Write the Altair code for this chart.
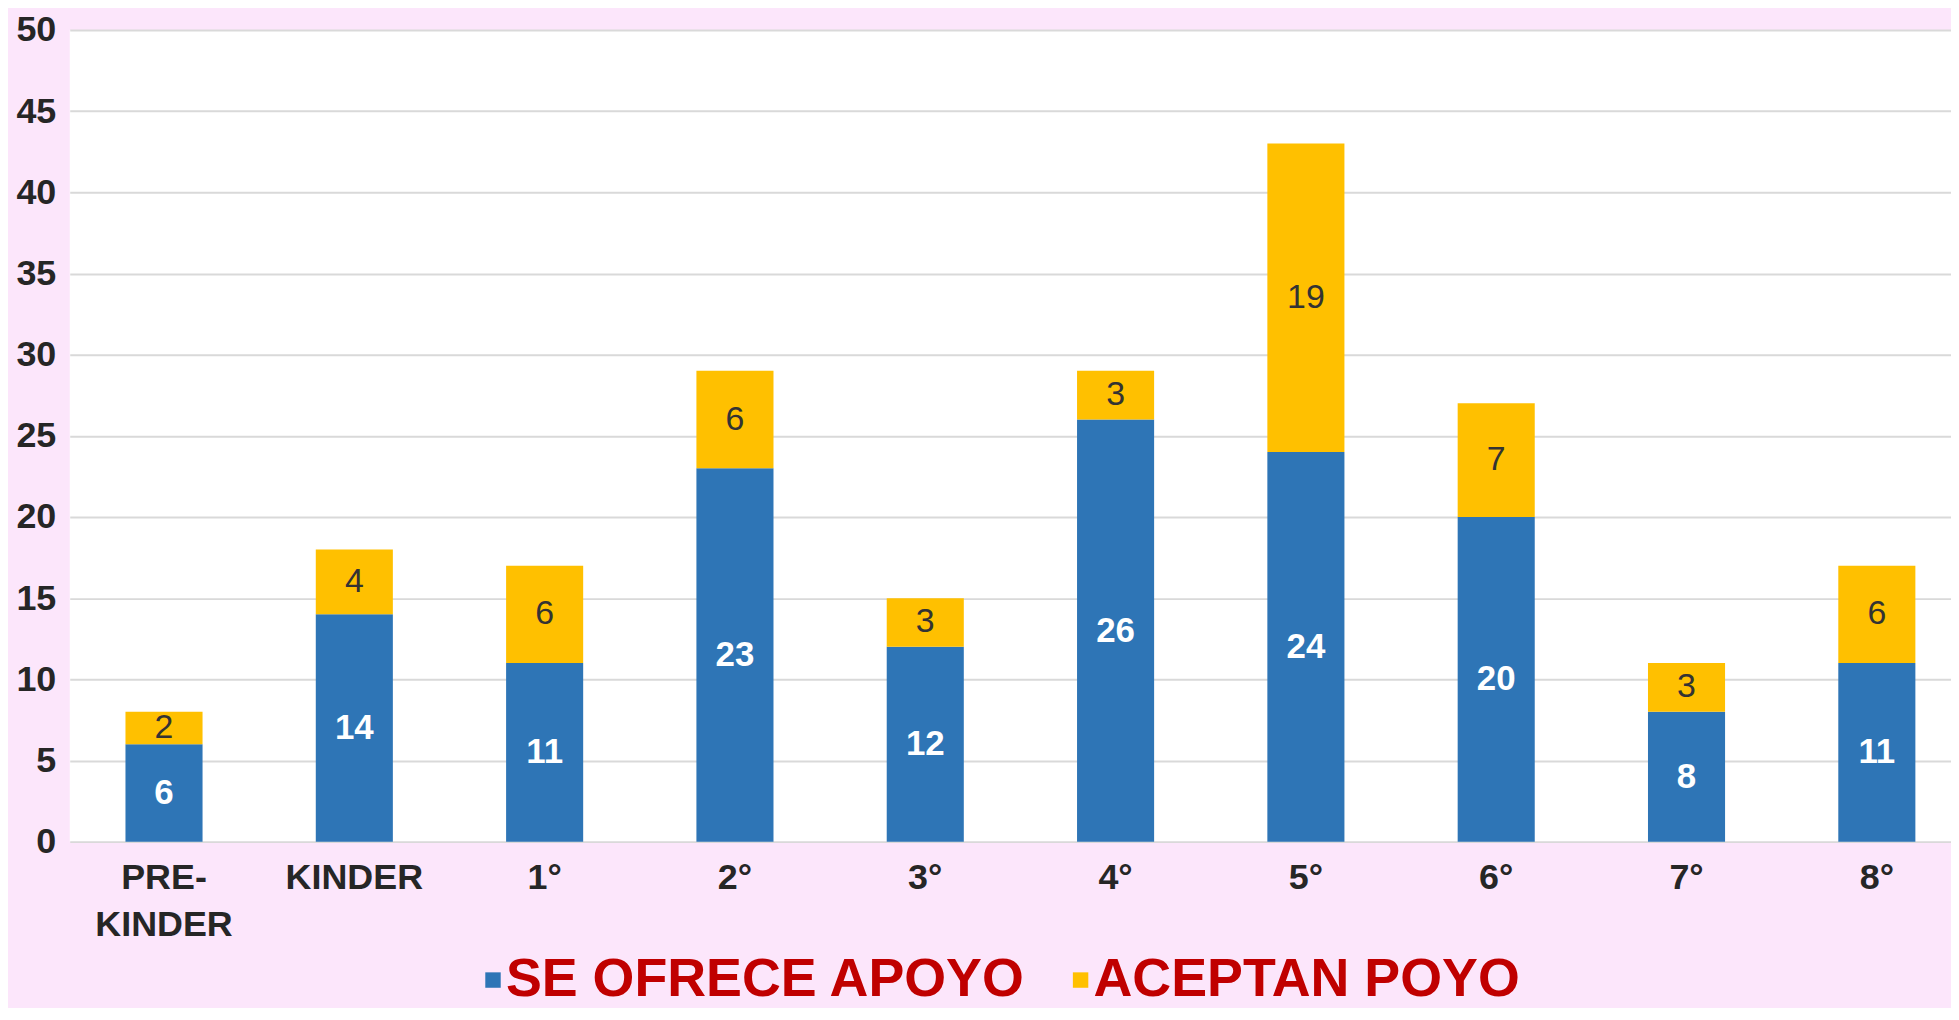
import altair as alt
import pandas as pd

categories = ["PRE-KINDER", "KINDER", "1°", "2°", "3°", "4°", "5°", "6°", "7°", "8°"]
ofrece = [6, 14, 11, 23, 12, 26, 24, 20, 8, 11]
aceptan = [2, 4, 6, 6, 3, 3, 19, 7, 3, 6]
series_names = ["SE OFRECE APOYO", "ACEPTAN POYO"]
series_colors = ["#2E75B6", "#FFC000"]

rows = []
for c, a, b in zip(categories, ofrece, aceptan):
    rows.append({"cat": c, "serie": series_names[0], "val": a, "ord": 0, "mid": a / 2})
    rows.append({"cat": c, "serie": series_names[1], "val": b, "ord": 1, "mid": a + b / 2})
df = pd.DataFrame(rows)

FONT = "Liberation Sans"

x_enc = alt.X(
    "cat:N",
    sort=categories,
    title=None,
    scale=alt.Scale(paddingInner=0.595, paddingOuter=0.24, align=0.61),
    axis=alt.Axis(
        labelAngle=0,
        labelFont=FONT,
        labelFontSize=36,
        labelFontWeight="bold",
        labelColor="#262626",
        labelPadding=19,
        labelLineHeight=47,
        labelExpr="datum.label == 'PRE-KINDER' ? ['PRE-', 'KINDER'] : datum.label",
        ticks=False,
        domain=False,
        grid=False,
    ),
)

bars = alt.Chart(df).mark_bar().encode(
    x=x_enc,
    y=alt.Y(
        "val:Q",
        stack="zero",
        title=None,
        scale=alt.Scale(domain=[0, 50], nice=False),
        axis=alt.Axis(
            values=list(range(0, 51, 5)),
            labelFont=FONT,
            labelFontSize=36,
            labelFontWeight="bold",
            labelColor="#262626",
            labelPadding=14,
            ticks=False,
            domain=False,
            gridColor="#D9D9D9",
            gridWidth=2,
        ),
    ),
    color=alt.Color(
        "serie:N",
        sort=series_names,
        scale=alt.Scale(domain=series_names, range=series_colors),
        legend=alt.Legend(
            title=None,
            orient="none",
            direction="horizontal",
            legendX=384,
            legendY=927,
            symbolType="square",
            symbolSize=240,
            symbolStrokeWidth=0,
            symbolOffset=14,
            labelFont=FONT,
            labelFontSize=54,
            labelFontWeight="bold",
            labelColor="#C00000",
            labelOffset={"expr": "-14"},
            columnPadding=13,
            labelLimit=1000,
        ),
    ),
    order=alt.Order("ord:Q", sort="ascending"),
)

txt_blue = alt.Chart(df).transform_filter(alt.datum.ord == 0).mark_text(
    font=FONT, fontSize=35, fontWeight="bold", color="white", baseline="middle"
).encode(x=alt.X("cat:N", sort=categories), y="mid:Q", text="val:Q")

txt_yel = alt.Chart(df).transform_filter(alt.datum.ord == 1).mark_text(
    font=FONT, fontSize=34, color="#333333", baseline="middle"
).encode(x=alt.X("cat:N", sort=categories), y="mid:Q", text="val:Q")

chart = (
    alt.layer(bars, txt_blue, txt_yel)
    .properties(
        width=1889,
        height=815,
        autosize=alt.AutoSizeParams(type="none"),
        padding={"left": 62, "top": 20, "right": 0, "bottom": 165},
        background="#FCE6FB",
    )
    .configure_view(stroke=None, fill="white")
)

chart.save("out.html", embed_options={"renderer": "svg", "actions": False})
